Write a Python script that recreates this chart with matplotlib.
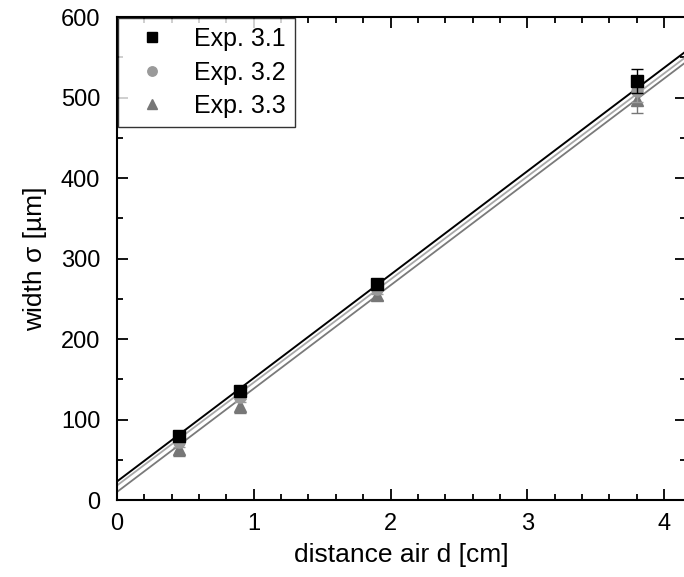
import numpy as np
import matplotlib.pyplot as plt
from matplotlib.ticker import MultipleLocator

plt.rcParams['font.family'] = ['Liberation Sans', 'DejaVu Sans']

# ==========================
# Data
# ==========================

distance = [0.45, 0.9, 1.9, 3.8]

width_31 = [80, 136, 268, 520]
err_31 = [6, 6, 6, 15]

width_32 = [72, 128, 262, 508]
err_32 = [6, 6, 6, 14]

width_33 = [63, 117, 255, 497]
err_33 = [8, 9, 7, 16]

# linear fits (intercept, slope)
fit_31 = [23, 128.5]
fit_32 = [18, 128.0]
fit_33 = [10, 128.4]

labels = ["Exp. 3.1", "Exp. 3.2", "Exp. 3.3"]

# ==========================
# Plot
# ==========================

fig = plt.figure(figsize=(6.84, 5.77), dpi=100)
ax = fig.add_axes([0.171, 0.1334, 0.832, 0.8371])

xfit = np.array([0, 4.2])

ax.plot(xfit, fit_31[0] + fit_31[1] * xfit, color="black", lw=1.4, zorder=2)
ax.plot(xfit, fit_32[0] + fit_32[1] * xfit, color="#a8a8a8", lw=1.3, zorder=2)
ax.plot(xfit, fit_33[0] + fit_33[1] * xfit, color="#7a7a7a", lw=1.3, zorder=2)

ax.errorbar(distance, width_33, yerr=err_33, fmt="^", ms=9, color="#777777",
            ecolor="#777777", elinewidth=1, capsize=4, label=labels[2], zorder=3)
ax.errorbar(distance, width_32, yerr=err_32, fmt="o", ms=8, color="#9a9a9a",
            ecolor="#9a9a9a", elinewidth=1, capsize=4, label=labels[1], zorder=4)
ax.errorbar(distance, width_31, yerr=err_31, fmt="s", ms=8, color="black",
            ecolor="black", elinewidth=1, capsize=4, label=labels[0], zorder=5)

ax.set_xlim(0, 4.16)
ax.set_ylim(0, 600)

ax.xaxis.set_major_locator(MultipleLocator(1))
ax.xaxis.set_minor_locator(MultipleLocator(0.2))
ax.yaxis.set_major_locator(MultipleLocator(100))
ax.yaxis.set_minor_locator(MultipleLocator(50))

ax.tick_params(which="both", direction="in", top=True, right=True,
               labelsize=17, width=1.3)
ax.tick_params(which="major", length=8)
ax.tick_params(axis="x", which="major", pad=9)
ax.tick_params(axis="y", which="major", pad=12)
ax.tick_params(which="minor", length=4)

for s in ax.spines.values():
    s.set_linewidth(1.5)

ax.set_xlabel("distance air d [cm]", fontsize=19, labelpad=6)
ax.set_ylabel("width σ [µm]", fontsize=19, labelpad=10)

handles, labs = ax.get_legend_handles_labels()
order = [2, 1, 0]
leg = ax.legend([handles[i][0] for i in order], [labs[i] for i in order],
                loc="upper left", fontsize=18, frameon=True, fancybox=False,
                edgecolor="black", handletextpad=0.7, borderpad=0.35,
                labelspacing=0.38, bbox_to_anchor=(0.0, 1.0),
                borderaxespad=0.05, handlelength=2.0, markerscale=0.85)
leg.get_frame().set_linewidth(1.0)

plt.savefig("out.png", dpi=100)
plt.close()
